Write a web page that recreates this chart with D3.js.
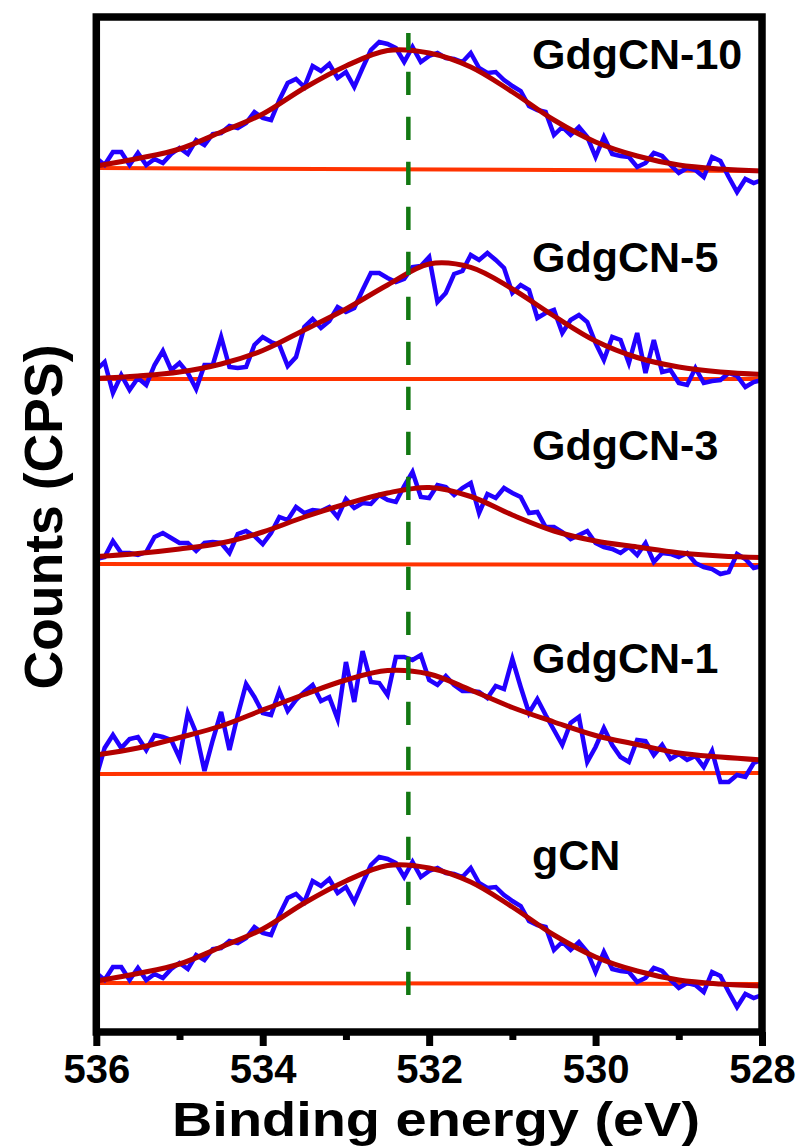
<!DOCTYPE html>
<html>
<head>
<meta charset="utf-8">
<script src="https://cdn.jsdelivr.net/npm/d3@7"></script>
<style>
body { margin: 0; background: #fff; }
text { font-family: "Liberation Sans", Arial, sans-serif; font-weight: bold; }
</style>
</head>
<body>
<div id="chart-area"></div>
<script>
// samples, bottom to top
var samples = ["gCN", "GdgCN-1", "GdgCN-3", "GdgCN-5", "GdgCN-10"];
// stacking offset of each spectrum (counts)
var offsets = [49, 258, 468, 653, 864];

// raw spectra, counts above offset, 536.0 -> 528.0 eV every 0.1 eV
var firstEnergy = 536, energyStep = 0.1;
var gcnCounts = [10,3,16,16,3,15,3,9,5,14, 20,14,28,23,34,35,42,40,45,56,
    50,48,68,85,89,81,102,97,104,90, 96,81,100,118,126,124,120,106,121,106,
    112,115,110,109,106,115,100,95,96,88, 82,77,62,58,56,33,41,33,41,31,
    11,31,14,12,11,1,5,15,12,3, -5,0,-2,-9,11,7,-9,-24,-11,-15,-12];
var gdgcn1Counts = [-3,26,39,26,35,37,24,39,37,34, 16,61,41,3,34,62,24,59,90,77,
    61,59,83,63,74,82,89,73,77,55, 112,72,123,92,91,79,117,117,114,119,
    94,89,98,89,83,83,82,76,88,85, 115,87,61,75,59,44,29,51,57,12,
    27,46,29,17,12,34,33,19,29,15, 20,14,18,7,23,-8,-8,-1,-3,11,14];
var gdgcn3Counts = [5,7,23,11,11,9,12,27,31,26, 21,21,13,21,22,21,11,30,33,28,
    20,31,47,44,57,51,54,53,57,47, 65,56,61,60,69,64,62,78,92,67,
    66,79,77,69,76,81,51,70,66,76, 71,67,51,52,37,37,32,25,29,33,
    21,17,15,11,17,9,21,2,11,10, 7,11,1,-3,-5,-10,-8,10,5,-4,-2];
var gdgcn5Counts = [9,17,-14,4,-11,1,-6,14,28,9, 16,6,-10,14,14,42,12,11,12,34,
    42,37,34,13,22,52,60,51,58,72, 67,71,89,106,106,101,97,100,112,113,
    122,77,86,105,108,124,119,126,119,111, 86,94,89,61,66,69,46,59,64,57,
    36,19,42,39,16,46,6,39,7,9, -4,-6,11,-4,-2,-1,6,3,-8,-3,-1];
// the GdgCN-10 trace is the same as gCN in the figure
var gdgcn10Counts = gcnCounts.slice();

// fitted peaks, read every 0.5 eV
var fitEnergy = [536, 535.5, 535, 534.5, 534, 533.5, 533, 532.5, 532,
    531.5, 531, 530.5, 530, 529.5, 529, 528.5, 528];
var gcnFit = [2, 9.5, 19, 36, 54, 80, 102, 117.5, 115, 101, 76, 48, 26, 12, 3, -1, -3];
var gdgcn1Fit = [19, 26, 36.5, 48, 64, 79.5, 94, 103.5, 100, 84, 66.5, 52, 38.5, 29.5, 21, 17, 14];
var gdgcn3Fit = [7.5, 10.5, 15, 21, 32, 47, 60, 71, 76.5, 67.5, 49, 33, 23, 17, 11.3, 8, 6.5];
var gdgcn5Fit = [0.5, 3, 7, 15, 28.5, 49, 70, 94, 115, 111.6, 90, 63, 38, 21.5, 12, 7, 4.5];
var gdgcn10Fit = gcnFit.slice();

// background lines (counts above offset at 536 and 528 eV)
var baseEnergy = [536, 528];
var baseLines = [[0, -1], [0, 1], [0, -1], [0, 0], [0, -3]];

// reference position of the dashed line
var refEnergy = 532.25;
var refCounts = [37, 999];

var xTicks = [536, 534, 532, 530, 528];
var xMinorTicks = [535, 533, 531, 529];

var counts = [gcnCounts, gdgcn1Counts, gdgcn3Counts, gdgcn5Counts, gdgcn10Counts];
var fits = [gcnFit, gdgcn1Fit, gdgcn3Fit, gdgcn5Fit, gdgcn10Fit];

var svg = d3.select("#chart-area")
    .append("svg")
    .attr("width", 802)
    .attr("height", 1148);

var x = d3.scaleLinear()
    .domain([536, 528])
    .range([96.3, 762]);

var y = d3.scaleLinear()
    .domain([0, 1015])
    .range([1032, 17]);

// label placement (pixels)
var labelX = 532;
var labelY = [870, 673, 460, 272, 69];

samples.forEach(function(name, k) {
    var off = offsets[k];

    var baseLine = d3.line()
        .x(function(d, i) { return x(baseEnergy[i]); })
        .y(function(d) { return y(off + d); });
    svg.append("path")
        .attr("d", baseLine(baseLines[k]))
        .attr("fill", "none")
        .attr("stroke", "#ff3300")
        .attr("stroke-width", 4);

    var rawLine = d3.line()
        .x(function(d, i) { return x(firstEnergy - i * energyStep); })
        .y(function(d) { return y(off + d); });
    svg.append("path")
        .attr("d", rawLine(counts[k]))
        .attr("fill", "none")
        .attr("stroke", "#2200ff")
        .attr("stroke-width", 4.5);

    var fitLine = d3.line()
        .x(function(d, i) { return x(fitEnergy[i]); })
        .y(function(d) { return y(off + d); })
        .curve(d3.curveCatmullRom);
    svg.append("path")
        .attr("d", fitLine(fits[k]))
        .attr("fill", "none")
        .attr("stroke", "#b30000")
        .attr("stroke-width", 5);

    svg.append("text")
        .attr("x", labelX)
        .attr("y", labelY[k])
        .attr("font-size", 43)
        .attr("fill", "#000")
        .text(name);
});

// dashed reference line
svg.append("path")
    .attr("d", d3.line()
        .x(function() { return x(refEnergy); })
        .y(function(d) { return y(d); })(refCounts))
    .attr("fill", "none")
    .attr("stroke", "#127812")
    .attr("stroke-width", 4.5)
    .attr("stroke-dasharray", "23.3,21.7");

// axes
var xAxis = d3.axisBottom(x)
    .tickValues(xTicks)
    .tickSize(14)
    .tickFormat(d3.format("d"));
var gx = svg.append("g")
    .attr("transform", "translate(0," + y(0) + ")")
    .call(xAxis);
gx.select(".domain").remove();
gx.selectAll(".tick line").attr("stroke", "#000").attr("stroke-width", 7);
gx.selectAll(".tick text")
    .attr("y", 51)
    .attr("dy", null)
    .attr("fill", "#000")
    .style("font-family", "'Liberation Sans', Arial, sans-serif")
    .style("font-weight", "bold")
    .style("font-size", "40px");

var gMinor = svg.append("g")
    .attr("transform", "translate(0," + y(0) + ")")
    .call(d3.axisBottom(x).tickValues(xMinorTicks).tickSize(8).tickFormat(""));
gMinor.select(".domain").remove();
gMinor.selectAll(".tick line").attr("stroke", "#000").attr("stroke-width", 7);

// frame
svg.append("rect")
    .attr("x", x(536))
    .attr("y", y(1015))
    .attr("width", x(528) - x(536))
    .attr("height", y(0) - y(1015))
    .attr("fill", "none")
    .attr("stroke", "#000")
    .attr("stroke-width", 7.5);

// axis titles
svg.append("text")
    .attr("x", 436)
    .attr("y", 1136)
    .attr("text-anchor", "middle")
    .attr("font-size", 48)
    .attr("textLength", 528)
    .attr("lengthAdjust", "spacingAndGlyphs")
    .text("Binding energy (eV)");

svg.append("text")
    .attr("transform", "translate(62,517) rotate(-90)")
    .attr("text-anchor", "middle")
    .attr("font-size", 54)
    .attr("textLength", 345)
    .attr("lengthAdjust", "spacingAndGlyphs")
    .text("Counts (CPS)");
</script>
</body>
</html>
